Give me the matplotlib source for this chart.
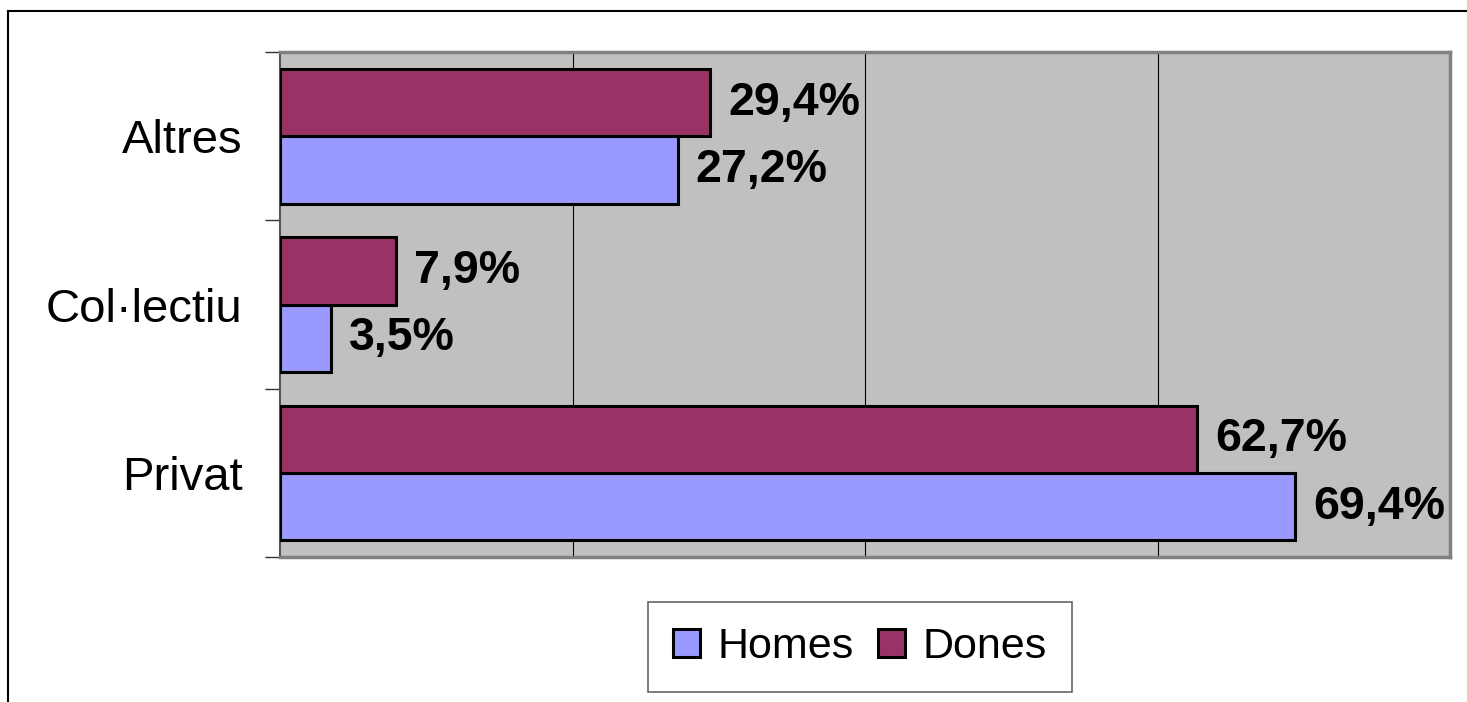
import matplotlib.pyplot as plt
import numpy as np
from matplotlib.lines import Line2D

plt.rcParams['font.family'] = ['Liberation Sans', 'DejaVu Sans']

# data (bottom to top as drawn)
categories = ['Privat', 'Col·lectiu', 'Altres']
homes = [69.4, 3.5, 27.2]
dones = [62.7, 7.9, 29.4]
homes_labels = ['69,4%', '3,5%', '27,2%']
dones_labels = ['62,7%', '7,9%', '29,4%']

fig = plt.figure(figsize=(14.67, 7.02), dpi=100)
ax = fig.add_axes([280/1467, 1 - 557/702, (1450-280)/1467, (557-52)/702])
ax.set_facecolor('#C0C0C0')

y = np.arange(len(categories))
h = 0.4
b1 = ax.barh(y - h/2, homes, height=h, color='#9999FF', edgecolor='black',
             linewidth=2.2, label='Homes', zorder=3)
b2 = ax.barh(y + h/2, dones, height=h, color='#993366', edgecolor='black',
             linewidth=2.2, label='Dones', zorder=3)

for bars, labs in [(b1, homes_labels), (b2, dones_labels)]:
    for rect, lab in zip(bars, labs):
        ax.annotate(lab, (rect.get_width(), rect.get_y() + rect.get_height()/2),
                    xytext=(13, 0), textcoords='offset points', ha='left',
                    va='center', fontsize=33.5, fontweight='bold', zorder=4)

ax.set_xlim(0, 80)
ax.set_ylim(-0.5, 2.5)
ax.set_xticks([20, 40, 60])
ax.xaxis.grid(True, color='black', linewidth=0.8)
ax.tick_params(axis='x', length=0, labelbottom=False)

ax.set_yticks(y)
ax.set_yticklabels(categories, fontsize=34)
ax.set_yticks([-0.5, 0.5, 1.5, 2.5], minor=True)
ax.tick_params(axis='y', which='major', length=0, pad=27)
ax.tick_params(axis='y', which='minor', length=11, width=1, color='#333333')

for s in ['top', 'right', 'bottom']:
    ax.spines[s].set_color('#808080')
    ax.spines[s].set_linewidth(2.5)
ax.spines['left'].set_color('#555555')
ax.spines['left'].set_linewidth(1.5)

handles = [plt.Rectangle((0, 0), 1, 1, facecolor='#9999FF', edgecolor='black', linewidth=2.2),
           plt.Rectangle((0, 0), 1, 1, facecolor='#993366', edgecolor='black', linewidth=2.2)]
leg = fig.legend(handles, ['Homes', 'Dones'], loc='center',
                 bbox_to_anchor=(860/1467, 1 - 647/702), ncol=2, fontsize=31,
                 frameon=True, fancybox=False, edgecolor='#404040',
                 handlelength=0.62, handleheight=0.62, handletextpad=0.42,
                 columnspacing=0.55, borderpad=0.58, borderaxespad=0)
leg.get_frame().set_linewidth(1.2)

# outer chart frame
fig.add_artist(Line2D([8/1467, 8/1467], [0, 1 - 11/702], color='black', linewidth=1.5))
fig.add_artist(Line2D([8/1467, 1], [1 - 11/702, 1 - 11/702], color='black', linewidth=1.5))

fig.savefig('out.png', dpi=100)
